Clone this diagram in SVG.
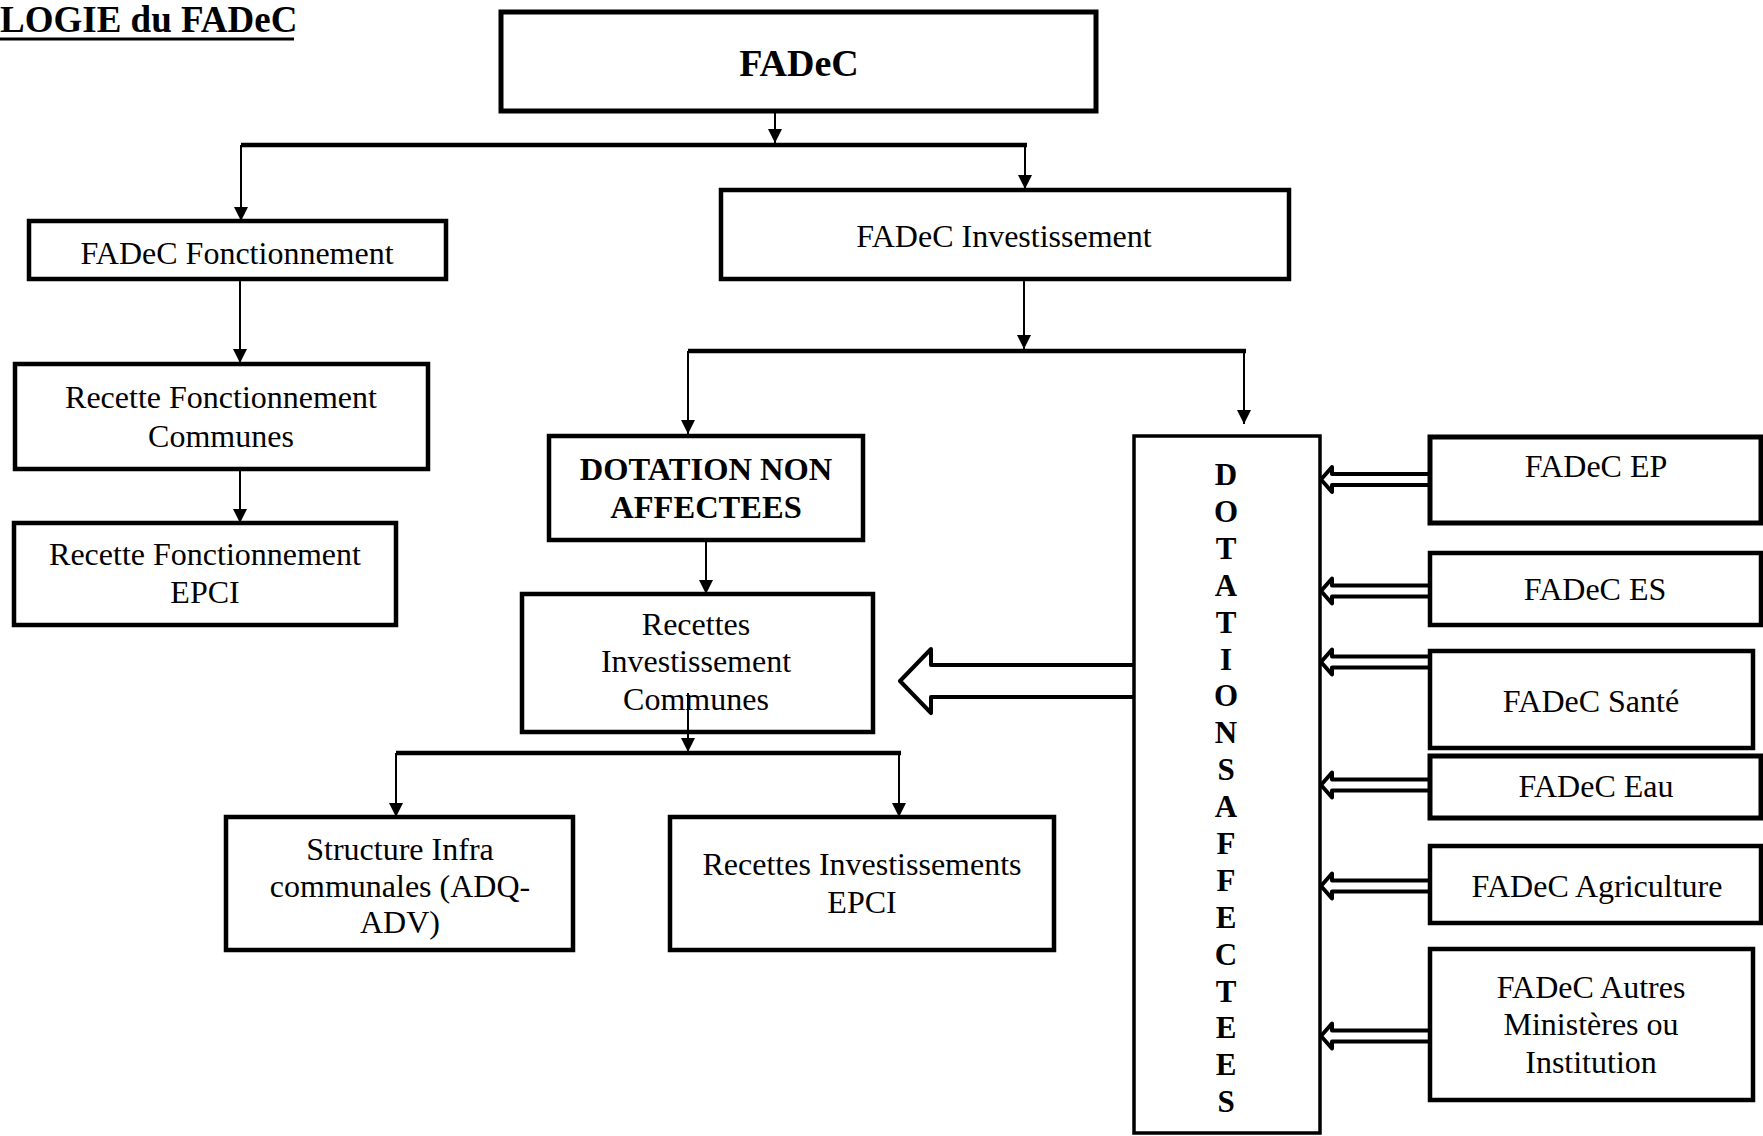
<svg xmlns="http://www.w3.org/2000/svg" width="1763" height="1136" viewBox="0 0 1763 1136">
<defs>
<style>
.box{fill:#fff;stroke:#000;stroke-width:4.5}
.thin{fill:#fff;stroke:#000;stroke-width:3.5}
.t{font-family:"Liberation Serif","Times New Roman",serif;font-size:32px;fill:#000;text-anchor:middle}
.b{font-weight:bold}
.v{font-family:"Liberation Serif","Times New Roman",serif;font-size:31px;font-weight:bold;fill:#000;text-anchor:middle}
.conn{stroke:#000;stroke-width:2;fill:none}
.bar{stroke:#000;stroke-width:4.5;fill:none}
.shadow{stroke:#8c8c8c;stroke-width:6;fill:none;filter:url(#blur)}
.hollow{fill:#fff;stroke:#000;stroke-width:4;stroke-linejoin:round}
</style>
<filter id="blur" x="-5%" y="-200%" width="110%" height="500%"><feGaussianBlur stdDeviation="1.8"/></filter>
<marker id="ah" viewBox="0 0 14 14" refX="14" refY="7" markerWidth="14" markerHeight="14" markerUnits="userSpaceOnUse" orient="auto"><path d="M0,0 L14,7 L0,14 z" fill="#000"/></marker>
</defs>

<g id="title">
<text x="0" y="32" font-family="Liberation Serif, Times New Roman, serif" font-size="37" font-weight="bold" fill="#000">LOGIE du FADeC</text>
<line x1="0" y1="39" x2="294" y2="39" stroke="#000" stroke-width="3"/>
</g>

<g id="connectors">
<line class="shadow" x1="243" y1="150" x2="1025" y2="150"/>
<line class="shadow" x1="690" y1="356" x2="1244" y2="356"/>
<line class="shadow" x1="398" y1="758" x2="899" y2="758"/>
<line class="bar" x1="241" y1="145" x2="1027" y2="145"/>
<line class="bar" x1="688" y1="351" x2="1246" y2="351"/>
<line class="bar" x1="396" y1="753" x2="901" y2="753"/>
<line class="conn" x1="775" y1="111" x2="775" y2="143" marker-end="url(#ah)"/>
<line class="conn" x1="241" y1="145" x2="241" y2="221" marker-end="url(#ah)"/>
<line class="conn" x1="1025" y1="145" x2="1025" y2="189" marker-end="url(#ah)"/>
<line class="conn" x1="240" y1="279" x2="240" y2="363" marker-end="url(#ah)"/>
<line class="conn" x1="240" y1="469" x2="240" y2="523" marker-end="url(#ah)"/>
<line class="conn" x1="1024" y1="279" x2="1024" y2="349" marker-end="url(#ah)"/>
<line class="conn" x1="688" y1="351" x2="688" y2="434" marker-end="url(#ah)"/>
<line class="conn" x1="1244" y1="351" x2="1244" y2="424" marker-end="url(#ah)"/>
<line class="conn" x1="706" y1="540" x2="706" y2="594" marker-end="url(#ah)"/>
<line class="conn" x1="396" y1="753" x2="396" y2="817" marker-end="url(#ah)"/>
<line class="conn" x1="899" y1="753" x2="899" y2="817" marker-end="url(#ah)"/>
<path class="hollow" d="M1134,665 L931,665 L931,649 L900,681 L931,713 L931,697 L1134,697"/>
<path class="hollow" d="M1430,474 L1332,474 L1332,467 L1321,479.5 L1332,492 L1332,485 L1430,485"/>
<path class="hollow" d="M1430,585.5 L1332,585.5 L1332,578.5 L1321,591 L1332,603.5 L1332,596.5 L1430,596.5"/>
<path class="hollow" d="M1430,656.5 L1332,656.5 L1332,649.5 L1321,662 L1332,674.5 L1332,667.5 L1430,667.5"/>
<path class="hollow" d="M1430,779.5 L1332,779.5 L1332,772.5 L1321,785 L1332,797.5 L1332,790.5 L1430,790.5"/>
<path class="hollow" d="M1430,880.5 L1332,880.5 L1332,873.5 L1321,886 L1332,898.5 L1332,891.5 L1430,891.5"/>
<path class="hollow" d="M1430,1030.5 L1332,1030.5 L1332,1023.5 L1321,1036 L1332,1048.5 L1332,1041.5 L1430,1041.5"/>
</g>

<g id="fadec">
<rect class="box" x="501" y="12" width="595" height="99" style="stroke-width:5"/>
<text class="t b" x="799" y="76" style="font-size:38px">FADeC</text>
</g>

<g id="fadec-fonctionnement">
<rect class="box" x="29" y="221" width="417" height="58"/>
<text class="t" x="237" y="264">FADeC Fonctionnement</text>
</g>

<g id="fadec-investissement">
<rect class="box" x="721" y="190" width="568" height="89"/>
<text class="t" x="1004" y="247">FADeC Investissement</text>
</g>

<g id="recette-fonct-communes">
<rect class="box" x="15" y="364" width="413" height="105"/>
<text class="t" x="221" y="408">Recette Fonctionnement</text>
<text class="t" x="221" y="447">Communes</text>
</g>

<g id="recette-fonct-epci">
<rect class="box" x="14" y="523" width="382" height="102"/>
<text class="t" x="205" y="565">Recette Fonctionnement</text>
<text class="t" x="205" y="603">EPCI</text>
</g>

<g id="dotation-non-affectees">
<rect class="box" x="549" y="436" width="314" height="104"/>
<text class="t b" x="706" y="480" style="font-size:32.5px">DOTATION NON</text>
<text class="t b" x="706" y="518" style="font-size:32.5px">AFFECTEES</text>
</g>

<g id="recettes-inv-communes">
<rect class="box" x="522" y="594" width="351" height="138"/>
<text class="t" x="696" y="635">Recettes</text>
<text class="t" x="696" y="672">Investissement</text>
<text class="t" x="696" y="710">Communes</text>
<line class="conn" x1="688" y1="693" x2="688" y2="752" marker-end="url(#ah)"/>
</g>

<g id="structure-infra">
<rect class="box" x="226" y="817" width="347" height="133"/>
<text class="t" x="400" y="860">Structure Infra</text>
<text class="t" x="400" y="897">communales (ADQ-</text>
<text class="t" x="400" y="933">ADV)</text>
</g>

<g id="recettes-inv-epci">
<rect class="box" x="670" y="817" width="384" height="133"/>
<text class="t" x="862" y="875">Recettes Investissements</text>
<text class="t" x="862" y="913">EPCI</text>
</g>

<g id="dotations-affectees">
<rect class="thin" x="1134" y="436" width="186" height="697"/>
<text class="v" x="1226" y="485">D</text>
<text class="v" x="1226" y="522">O</text>
<text class="v" x="1226" y="559">T</text>
<text class="v" x="1226" y="596">A</text>
<text class="v" x="1226" y="633">T</text>
<text class="v" x="1226" y="670">I</text>
<text class="v" x="1226" y="706">O</text>
<text class="v" x="1226" y="743">N</text>
<text class="v" x="1226" y="780">S</text>
<text class="v" x="1226" y="817">A</text>
<text class="v" x="1226" y="854">F</text>
<text class="v" x="1226" y="891">F</text>
<text class="v" x="1226" y="928">E</text>
<text class="v" x="1226" y="965">C</text>
<text class="v" x="1226" y="1002">T</text>
<text class="v" x="1226" y="1038">E</text>
<text class="v" x="1226" y="1075">E</text>
<text class="v" x="1226" y="1112">S</text>
</g>

<g id="fadec-ep">
<rect class="box" x="1430" y="437" width="331" height="86" style="stroke-width:5"/>
<text class="t" x="1596" y="477">FADeC EP</text>
</g>

<g id="fadec-es">
<rect class="box" x="1430" y="553" width="331" height="72"/>
<text class="t" x="1595" y="600">FADeC ES</text>
</g>

<g id="fadec-sante">
<rect class="box" x="1430" y="651" width="323" height="97"/>
<text class="t" x="1591" y="712">FADeC Santé</text>
</g>

<g id="fadec-eau">
<rect class="box" x="1430" y="756" width="331" height="62" style="stroke-width:5"/>
<text class="t" x="1596" y="797">FADeC Eau</text>
</g>

<g id="fadec-agriculture">
<rect class="box" x="1430" y="846" width="331" height="77"/>
<text class="t" x="1597" y="897">FADeC Agriculture</text>
</g>

<g id="fadec-autres">
<rect class="box" x="1430" y="949" width="323" height="151"/>
<text class="t" x="1591" y="998">FADeC Autres</text>
<text class="t" x="1591" y="1035">Ministères ou</text>
<text class="t" x="1591" y="1073">Institution</text>
</g>
</svg>
